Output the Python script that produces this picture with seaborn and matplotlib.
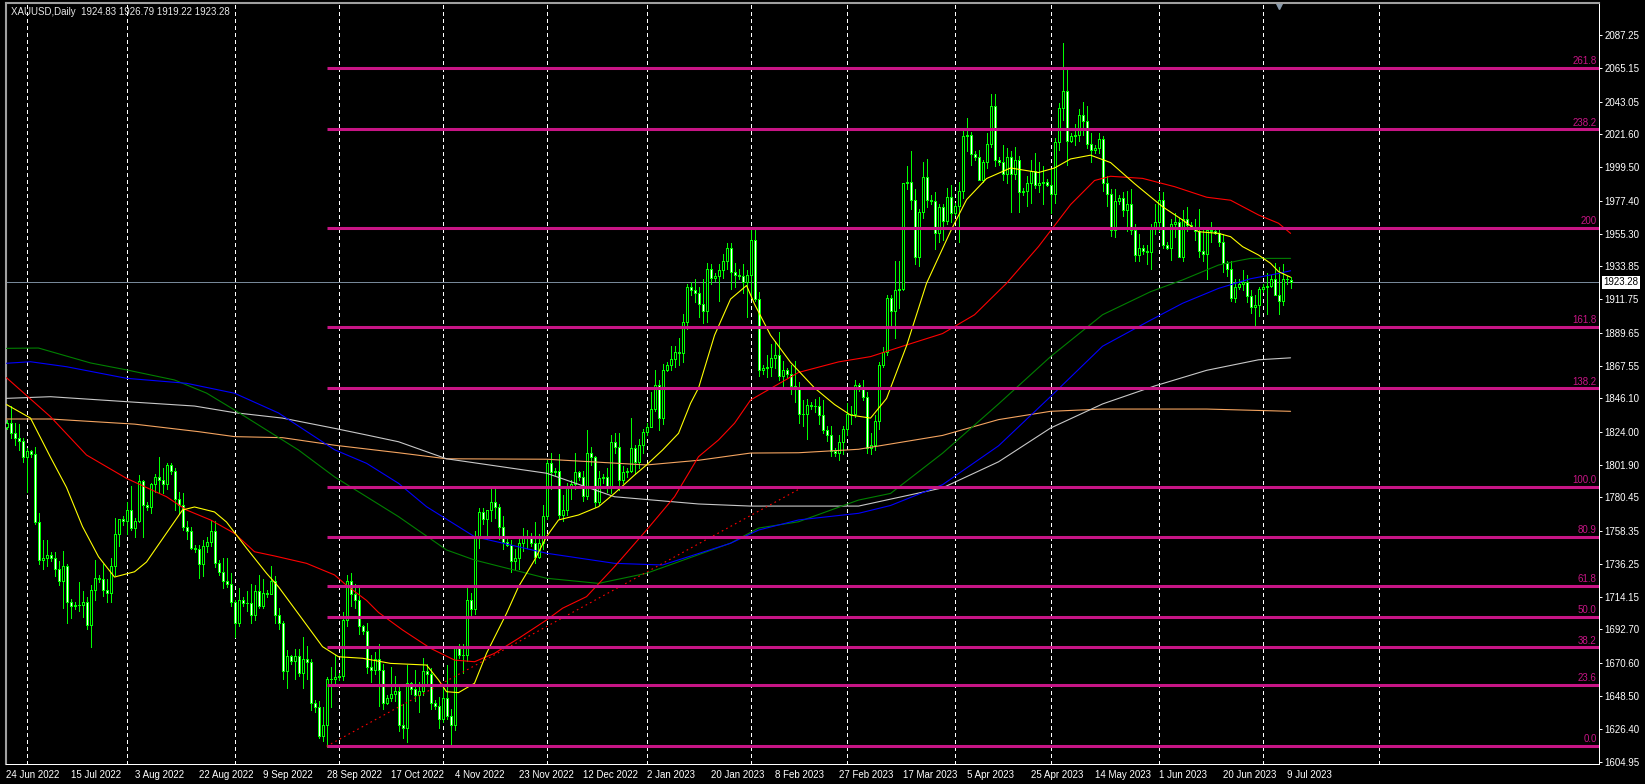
import numpy as np
import pandas as pd
import matplotlib
matplotlib.use("Agg")
import matplotlib.pyplot as plt
import seaborn as sns

symbol = "XAUUSD,Daily"

# daily bars run Sunday..Friday, the broker had no bar on these days
closed_days = ["2022-07-04", "2022-12-25", "2023-01-01", "2023-04-07"]
all_days = pd.date_range("2022-06-24", "2023-07-10", freq="D")
dates = [d for d in all_days if d.weekday() != 5 and d.strftime("%Y-%m-%d") not in closed_days]

# OHLC, one row per week (Sunday bar first)
opens = [1822,
    1827, 1830, 1823, 1820, 1818, 1807,
    1811, 1809, 1764, 1739, 1740,
    1742, 1740, 1733, 1725, 1735, 1711,
    1708, 1709, 1709, 1711, 1696, 1719,
    1727, 1726, 1719, 1717, 1735, 1756,
    1766, 1765, 1772, 1760, 1765, 1791,
    1775, 1774, 1789, 1794, 1792, 1789,
    1802, 1798, 1779, 1775, 1761, 1758,
    1747, 1746, 1736, 1748, 1751, 1758,
    1737, 1731, 1725, 1723, 1711, 1697,
    1712, 1710, 1710, 1702, 1718, 1708,
    1717, 1716, 1725, 1702, 1697, 1665,
    1675, 1672, 1675, 1664, 1673, 1671,
    1644, 1641, 1622, 1629, 1660, 1660,
    1661, 1662, 1699, 1725, 1716, 1712,
    1695, 1692, 1668, 1666, 1673, 1666,
    1644, 1647, 1650, 1652, 1629, 1627,
    1657, 1653, 1649, 1652, 1665, 1663,
    1644, 1642, 1633, 1647, 1635, 1629,
    1681, 1676, 1676, 1712, 1706, 1754,
    1771, 1766, 1772, 1777, 1774, 1761,
    1751, 1749, 1738, 1740, 1750, 1755,
    1755, 1750, 1741, 1750, 1768, 1803,
    1797, 1798, 1769, 1772, 1787, 1789,
    1797, 1794, 1781, 1810, 1807, 1777,
    1793, 1794, 1787, 1817, 1814, 1792,
    1797, 1798, 1813, 1804, 1815,
    1824, 1827, 1839, 1855, 1833,
    1865, 1868, 1872, 1877, 1876, 1897,
    1920, 1918, 1916, 1909, 1904, 1932,
    1926, 1927, 1931, 1937, 1946, 1930,
    1928, 1927, 1923, 1928, 1951, 1912,
    1865, 1866, 1867, 1873, 1875, 1861,
    1865, 1862, 1854, 1853, 1836, 1836,
    1842, 1841, 1841, 1835, 1825, 1822,
    1811, 1810, 1817, 1826, 1836, 1836,
    1855, 1853, 1847, 1813, 1815, 1831,
    1868, 1877, 1913, 1904, 1918, 1919,
    1989, 1990, 1978, 1940, 1970, 1993,
    1978, 1977, 1956, 1973, 1964, 1980,
    1969, 1974, 1984, 2020, 2021,
    2008, 2006, 1991, 2003, 2015, 2040,
    2004, 2003, 1995, 2006, 1995, 2004,
    1983, 1984, 1989, 1997, 1988, 1989,
    1990, 1988, 1982, 2016, 2039, 2050,
    2017, 2020, 2021, 2034, 2030, 2015,
    2011, 2012, 2018, 1989, 1982, 1958,
    1977, 1979, 1971, 1975, 1958, 1941,
    1946, 1944, 1943, 1959, 1963, 1978,
    1948, 1946, 1962, 1963, 1940, 1965,
    1961, 1960, 1957, 1944, 1942, 1958,
    1957, 1956, 1950, 1936, 1932, 1913,
    1920, 1922, 1923, 1914, 1907, 1908,
    1919, 1920, 1921, 1925, 1915, 1911,
    1925, 1924.83]

highs = [1833,
    1832, 1841, 1830, 1829, 1820, 1813,
    1812, 1814, 1770, 1752, 1752,
    1744, 1744, 1738, 1745, 1736, 1713,
    1711, 1724, 1718, 1714, 1722, 1739,
    1729, 1736, 1726, 1740, 1767, 1766,
    1768, 1777, 1788, 1767, 1795, 1792,
    1777, 1790, 1796, 1807, 1800, 1803,
    1803, 1800, 1784, 1783, 1765, 1761,
    1749, 1749, 1752, 1754, 1765, 1765,
    1739, 1740, 1740, 1730, 1712, 1720,
    1714, 1718, 1723, 1722, 1729, 1726,
    1719, 1735, 1728, 1707, 1698, 1679,
    1676, 1680, 1680, 1688, 1682, 1673,
    1646, 1645, 1641, 1661, 1668, 1676,
    1664, 1704, 1729, 1730, 1723, 1722,
    1696, 1697, 1676, 1678, 1683, 1670,
    1649, 1668, 1662, 1655, 1643, 1669,
    1658, 1666, 1658, 1674, 1670, 1667,
    1646, 1648, 1655, 1669, 1640, 1681,
    1683, 1683, 1722, 1717, 1758, 1773,
    1773, 1772, 1787, 1786, 1776, 1768,
    1753, 1752, 1746, 1754, 1760, 1759,
    1757, 1764, 1756, 1775, 1805, 1810,
    1800, 1809, 1782, 1790, 1792, 1810,
    1798, 1798, 1825, 1814, 1808, 1798,
    1796, 1800, 1822, 1823, 1823, 1801,
    1800, 1833, 1815, 1819, 1826,
    1830, 1850, 1865, 1858, 1869,
    1870, 1881, 1881, 1886, 1902, 1922,
    1923, 1925, 1920, 1925, 1936, 1935,
    1929, 1935, 1942, 1949, 1949, 1936,
    1932, 1935, 1931, 1958, 1959, 1917,
    1868, 1875, 1882, 1884, 1890, 1871,
    1866, 1868, 1871, 1857, 1845, 1846,
    1844, 1846, 1847, 1845, 1828, 1828,
    1813, 1822, 1828, 1843, 1841, 1858,
    1856, 1858, 1850, 1823, 1835, 1870,
    1880, 1915, 1915, 1937, 1937, 1989,
    2000, 2010, 1985, 1972, 2003, 2005,
    1981, 1983, 1975, 1975, 1986, 1988,
    1976, 1990, 2025, 2032, 2023,
    2010, 2011, 2004, 2022, 2048, 2048,
    2006, 2014, 2012, 2010, 2013, 2007,
    1986, 1994, 2004, 2009, 2003, 2000,
    1992, 1998, 2019, 2042, 2082, 2064,
    2022, 2028, 2038, 2043, 2040, 2022,
    2014, 2022, 2020, 1994, 1985, 1985,
    1981, 1983, 1984, 1985, 1962, 1955,
    1948, 1948, 1962, 1975, 1983, 1983,
    1950, 1965, 1969, 1966, 1971, 1973,
    1963, 1965, 1972, 1959, 1958, 1963,
    1959, 1960, 1955, 1937, 1937, 1925,
    1925, 1931, 1928, 1918, 1915, 1920,
    1922, 1929, 1928, 1936, 1933, 1935,
    1927, 1926.79]

lows = [1816,
    1826, 1820, 1815, 1812, 1804, 1784,
    1807, 1763, 1736, 1733, 1735,
    1738, 1728, 1722, 1707, 1697, 1700,
    1706, 1705, 1701, 1693, 1681, 1712,
    1724, 1715, 1711, 1711, 1729, 1748,
    1762, 1756, 1759, 1754, 1764, 1754,
    1772, 1770, 1784, 1783, 1783, 1786,
    1796, 1772, 1770, 1759, 1753, 1746,
    1744, 1727, 1728, 1744, 1748, 1734,
    1729, 1720, 1721, 1708, 1688, 1695,
    1708, 1705, 1697, 1699, 1707, 1707,
    1714, 1716, 1697, 1693, 1660, 1654,
    1670, 1660, 1662, 1654, 1660, 1639,
    1638, 1621, 1619, 1615, 1641, 1656,
    1659, 1659, 1695, 1708, 1707, 1690,
    1690, 1664, 1658, 1663, 1642, 1640,
    1643, 1645, 1645, 1625, 1621, 1618,
    1650, 1645, 1638, 1649, 1656, 1640,
    1640, 1627, 1631, 1633, 1617, 1626,
    1674, 1664, 1672, 1700, 1703, 1747,
    1763, 1753, 1765, 1767, 1753, 1746,
    1748, 1731, 1733, 1733, 1745, 1747,
    1748, 1737, 1740, 1746, 1766, 1786,
    1795, 1767, 1765, 1769, 1779, 1786,
    1792, 1778, 1779, 1802, 1774, 1775,
    1790, 1784, 1783, 1810, 1785, 1790,
    1794, 1797, 1796, 1800, 1810,
    1822, 1827, 1838, 1825, 1829,
    1864, 1865, 1867, 1868, 1870, 1892,
    1915, 1910, 1900, 1896, 1897, 1922,
    1924, 1911, 1926, 1932, 1919, 1920,
    1925, 1916, 1900, 1913, 1911, 1861,
    1862, 1860, 1861, 1866, 1858, 1853,
    1860, 1849, 1844, 1830, 1828, 1819,
    1839, 1837, 1829, 1823, 1818, 1808,
    1808, 1805, 1809, 1822, 1829, 1834,
    1851, 1845, 1810, 1809, 1812, 1826,
    1867, 1875, 1895, 1886, 1906, 1918,
    1985, 1972, 1935, 1934, 1966, 1973,
    1975, 1945, 1950, 1951, 1962, 1963,
    1968, 1950, 1979, 2010, 2001,
    2004, 1991, 1990, 1999, 2013, 2000,
    2001, 1991, 1989, 1970, 1992, 1970,
    1981, 1974, 1976, 1986, 1983, 1975,
    1987, 1969, 1976, 2011, 2031, 2001,
    2016, 2014, 2017, 2021, 2012, 2003,
    2009, 2009, 1984, 1974, 1954, 1953,
    1975, 1967, 1957, 1955, 1937, 1937,
    1942, 1935, 1932, 1955, 1957, 1946,
    1945, 1938, 1953, 1940, 1937, 1957,
    1959, 1951, 1940, 1937, 1925, 1950,
    1955, 1947, 1930, 1927, 1911, 1910,
    1919, 1918, 1910, 1903, 1893, 1901,
    1917, 1902, 1920, 1915, 1902, 1908,
    1922, 1919.22]

closes = [1827,
    1830, 1823, 1820, 1818, 1807, 1811,
    1809, 1764, 1739, 1740, 1742,
    1740, 1733, 1725, 1735, 1711, 1708,
    1709, 1709, 1711, 1696, 1719, 1727,
    1726, 1719, 1717, 1735, 1756, 1766,
    1765, 1772, 1760, 1765, 1791, 1775,
    1774, 1789, 1794, 1792, 1789, 1802,
    1798, 1779, 1775, 1761, 1758, 1747,
    1746, 1736, 1748, 1751, 1758, 1737,
    1731, 1725, 1723, 1711, 1697, 1712,
    1710, 1710, 1702, 1718, 1708, 1717,
    1716, 1725, 1702, 1697, 1665, 1675,
    1672, 1675, 1664, 1673, 1671, 1644,
    1641, 1622, 1629, 1660, 1660, 1661,
    1662, 1699, 1725, 1716, 1712, 1695,
    1692, 1668, 1666, 1673, 1666, 1644,
    1647, 1650, 1652, 1629, 1627, 1657,
    1653, 1649, 1652, 1665, 1663, 1644,
    1642, 1633, 1647, 1635, 1629, 1681,
    1676, 1676, 1712, 1706, 1754, 1771,
    1766, 1772, 1777, 1774, 1761, 1751,
    1749, 1738, 1740, 1750, 1755, 1755,
    1750, 1741, 1750, 1768, 1803, 1797,
    1798, 1769, 1772, 1787, 1789, 1797,
    1794, 1781, 1810, 1807, 1777, 1793,
    1794, 1787, 1817, 1814, 1792, 1797,
    1798, 1813, 1804, 1815, 1824,
    1827, 1839, 1855, 1833, 1865,
    1868, 1872, 1877, 1876, 1897, 1920,
    1918, 1916, 1909, 1904, 1932, 1926,
    1927, 1931, 1937, 1946, 1930, 1928,
    1927, 1923, 1928, 1951, 1912, 1865,
    1866, 1867, 1873, 1875, 1861, 1865,
    1862, 1854, 1853, 1836, 1836, 1842,
    1841, 1841, 1835, 1825, 1822, 1811,
    1810, 1817, 1826, 1836, 1836, 1855,
    1853, 1847, 1813, 1815, 1831, 1868,
    1877, 1913, 1904, 1918, 1919, 1989,
    1990, 1978, 1940, 1970, 1993, 1978,
    1977, 1956, 1973, 1964, 1980, 1969,
    1974, 1984, 2020, 2021, 2008,
    2006, 1991, 2003, 2015, 2040, 2004,
    2003, 1995, 2006, 1995, 2004, 1983,
    1984, 1989, 1997, 1988, 1989, 1990,
    1988, 1982, 2016, 2039, 2050, 2017,
    2020, 2021, 2034, 2030, 2015, 2011,
    2012, 2018, 1989, 1982, 1958, 1977,
    1979, 1971, 1975, 1958, 1941, 1946,
    1944, 1943, 1959, 1963, 1978, 1948,
    1946, 1962, 1963, 1940, 1965, 1961,
    1960, 1957, 1944, 1942, 1958, 1957,
    1956, 1950, 1936, 1932, 1913, 1920,
    1922, 1923, 1914, 1907, 1908, 1919,
    1920, 1921, 1925, 1915, 1911, 1925,
    1925, 1923.28]

# moving averages: bar number -> value
yellow_x = [1, 7, 12, 16, 20, 24, 28, 33, 36, 41, 45, 48, 53, 56, 61, 66, 69, 74, 80, 84,
            90, 97, 106, 109, 111, 114, 118, 121, 126, 129, 133, 136, 139, 144, 149, 153, 158, 161, 165, 169,
            172, 174, 178, 182, 186, 188, 192, 197, 203, 208, 212, 217, 221, 226, 231, 237, 241, 246, 252, 259,
            263, 267, 272, 277, 283, 290, 295, 299, 304, 307, 310, 314, 317, 319, 322]
yellow_y = [1842, 1833, 1807, 1787, 1761, 1741, 1727.5, 1731, 1737.5, 1756.7, 1772, 1774, 1770.7, 1764, 1746.7, 1730, 1721, 1703, 1681.3, 1674.6,
            1673.6, 1670.2, 1669.1, 1659.2, 1651.4, 1650.8, 1657, 1676.9, 1703.4, 1721.1, 1738.8, 1754.3, 1765.4, 1768.7, 1774.2, 1783.1, 1795.2, 1801.9, 1811.8, 1822.9,
            1842.8, 1853, 1888, 1912, 1921, 1908.6, 1888, 1870, 1853, 1842, 1835, 1833, 1846, 1881, 1922.5, 1957, 1978, 1992, 1999, 1996,
            1999, 2005, 2007.5, 2002.6, 1988.6, 1973.3, 1964.5, 1956.7, 1955.6, 1953.4, 1946.8, 1941.2, 1935.7, 1930.2, 1926.5]

red_x = [1, 12, 21, 31, 41, 46, 52, 58, 63, 68, 76, 83, 86, 91, 94, 100, 107, 113, 118, 123,
         129, 136, 140, 146, 153, 161, 168, 174, 179, 183, 187, 199, 209, 217, 225, 235, 243, 251, 259, 267,
         273, 277, 285, 293, 301, 307, 314, 319, 322]
red_y = [1859.8, 1833.9, 1808.5, 1793, 1780.8, 1772, 1765.4, 1756.5, 1744.3, 1741.5, 1736.6, 1728.9, 1722, 1712, 1704, 1692.4, 1680.2, 1672.4, 1671.3, 1676.9,
         1686.8, 1699, 1706.8, 1714.5, 1734.4, 1758.7, 1780.8, 1807.4, 1818.5, 1829.6, 1845, 1863.3, 1870.3, 1873.8, 1880.7, 1889.1, 1901.6, 1922.5, 1946.9, 1974.7,
         1990.7, 1993.5, 1992.1, 1986.6, 1979.6, 1977.6, 1967.8, 1962.3, 1955.6]

green_x = [1, 9, 22, 31, 43, 51, 58, 66, 74, 83, 91, 99, 111, 118, 136, 149, 161, 182, 189, 199,
           214, 222, 235, 249, 262, 275, 287, 295, 304, 309, 312, 322]
green_y = [1879.3, 1879.5, 1869.6, 1865, 1858.3, 1849.6, 1838.4, 1825.1, 1811.8, 1794, 1780.8, 1767.6, 1745.5, 1738.8, 1726.7, 1723.3, 1730, 1750, 1760, 1764.2,
           1778.6, 1783, 1809.7, 1842.4, 1873.8, 1901.6, 1916.9, 1924.7, 1934.6, 1937.5, 1939, 1939]

blue_x = [1, 7, 16, 31, 46, 58, 69, 83, 91, 99, 106, 118, 136, 153, 165, 182, 189, 199, 214, 222,
          235, 249, 262, 275, 287, 295, 304, 312, 319, 322]
blue_y = [1869.4, 1870.4, 1867.1, 1859.4, 1856.1, 1849.5, 1836.4, 1812, 1803, 1789.7, 1774.2, 1754.3, 1743.3, 1736.6, 1735.5, 1749.9, 1758.7, 1765.4, 1769.8, 1775,
          1788.8, 1814.6, 1847.3, 1880.7, 1898, 1909.2, 1919.1, 1925.5, 1929, 1930.8]

silver_x = [1, 12, 31, 48, 58, 70, 83, 91, 99, 111, 136, 153, 174, 187, 214, 235, 249, 262, 275, 288, 301, 314, 322]
silver_y = [1846.1, 1847.2, 1843.9, 1841, 1836.6, 1833, 1826.2, 1821.8, 1817.3, 1806, 1796.4, 1780.8, 1776, 1774.6, 1774.6, 1786.7, 1804, 1826.4, 1842.4, 1854.3, 1864.7, 1871.7, 1873]

sandy_x = [1, 12, 33, 49, 58, 70, 83, 99, 111, 136, 161, 174, 187, 199, 214, 235, 249, 262, 275, 288, 301, 322]
sandy_y = [1832.4, 1832.4, 1829, 1824, 1820.7, 1820, 1815, 1810, 1806, 1805.7, 1801.9, 1805, 1809.8, 1810, 1812.3, 1821.5, 1832, 1837.5, 1839, 1839, 1839, 1837.5]

# fibonacci retracement
fib_low, fib_high = 1615.2, 1787.1
fib_dates = ["2022-09-28", "2023-02-16"]
fib_levels = [0.0, 23.6, 38.2, 50.0, 61.8, 80.9, 100.0, 138.2, 161.8, 200.0, 238.2, 261.8]
fib_names = ["0.0", "23.6", "38.2", "50.0", "61.8", "80.9", "100.0", "138.2", "161.8", "200", "238.2", "261.8"]

price_labels = ["2087.25", "2065.15", "2043.05", "2021.60", "1999.50", "1977.40", "1955.30", "1933.85",
                "1911.75", "1889.65", "1867.55", "1846.10", "1824.00", "1801.90", "1780.45", "1758.35",
                "1736.25", "1714.15", "1692.70", "1670.60", "1648.50", "1626.40", "1604.95"]
date_labels = ["24 Jun 2022", "15 Jul 2022", "3 Aug 2022", "22 Aug 2022", "9 Sep 2022", "28 Sep 2022",
               "17 Oct 2022", "4 Nov 2022", "23 Nov 2022", "12 Dec 2022", "2 Jan 2023", "20 Jan 2023",
               "8 Feb 2023", "27 Feb 2023", "17 Mar 2023", "5 Apr 2023", "25 Apr 2023", "14 May 2023",
               "1 Jun 2023", "20 Jun 2023", "9 Jul 2023"]

sns.set_theme(style="dark", rc={"axes.facecolor": "black", "figure.facecolor": "black",
                                "axes.edgecolor": "white", "text.color": "white",
                                "xtick.color": "white", "ytick.color": "white", "axes.grid": False})
plt.rcParams["font.family"] = ["Liberation Sans", "DejaVu Sans"]

PX = 0.72  # one pixel in points
W, H = 1645, 784
fig = plt.figure(figsize=(W / 100, H / 100), dpi=100)
ax = fig.add_axes([6 / W, 20 / H, 1593 / W, 761 / H])
x_lo, x_hi = 0.875, 399.1
ax.set_xlim(x_lo, x_hi)
ax.set_ylim(1603.42, 2108.5)

date_key = [d.strftime("%Y-%m-%d") for d in dates]
idx = np.arange(len(dates))

# month separators (future bars count as calendar days)
last = dates[-1]
for m in pd.date_range("2022-07-01", "2023-08-01", freq="MS"):
    later = [i for i, d in enumerate(dates) if d >= m]
    pos = later[0] if later else len(dates) - 1 + (m - last).days
    if x_lo < pos < x_hi:
        ax.axvline(pos, color="white", lw=PX, ls=(0, (3, 3)), zorder=1, antialiased=False)

# candles
o, h, l, c = map(np.array, (opens, highs, lows, closes))
ax.vlines(idx, l, h, color="#00FF00", lw=PX, zorder=3, antialiased=False)
body_col = np.where(c >= o, "black", "white")
ax.bar(idx, np.abs(c - o), bottom=np.minimum(o, c), width=0.5, color=body_col,
       edgecolor="#00FF00", linewidth=PX, zorder=4, antialiased=False)

# moving averages
for xs, ys, col in [(sandy_x, sandy_y, "#F4A460"), (silver_x, silver_y, "#C8C8C8"),
                    (green_x, green_y, "#008000"), (blue_x, blue_y, "#0000FF"),
                    (red_x, red_y, "#FF0000"), (yellow_x, yellow_y, "#FFFF00")]:
    sns.lineplot(x=xs, y=ys, color=col, linewidth=0.8, sort=False, estimator=None, ax=ax, zorder=5)

# current price line
ax.axhline(closes[-1], color="#778899", lw=PX, zorder=2)

# fibonacci
magenta = "#C71585"
f0 = date_key.index(fib_dates[0])
f1 = date_key.index(fib_dates[1])
ax.plot([f0, f1], [fib_low, fib_high], color="red", lw=0.8, ls=(0, (1.5, 3)), zorder=6)
for lvl, name in zip(fib_levels, fib_names):
    p = fib_low + (fib_high - fib_low) * lvl / 100
    ax.hlines(p, f0, x_hi, color=magenta, lw=2.2, zorder=6)
    ax.text(0.9985, p + 1.2, name, transform=ax.get_yaxis_transform(), ha="right", va="bottom",
            color=magenta, fontsize=7, zorder=7)

# axes
ax.yaxis.tick_right()
ax.set_yticks([float(v) for v in price_labels], price_labels)
pos = [max(date_key.index(pd.to_datetime(s, format="%d %b %Y").strftime("%Y-%m-%d")), x_lo + 0.05)
       for s in date_labels]
ax.set_xticks(pos, date_labels)
for t in ax.get_xticklabels():
    t.set_horizontalalignment("left")
ax.tick_params(axis="both", length=2.5, width=PX, pad=1.5, labelsize=7, colors="white")
ax.set_xlabel("")
ax.set_ylabel("")
for side in ["right", "bottom"]:
    ax.spines[side].set_color("white")
    ax.spines[side].set_linewidth(PX)
for side in ["left", "top"]:
    ax.spines[side].set_color("#A0A0A0")
    ax.spines[side].set_linewidth(1.5)

ax.text(1.003, closes[-1], f"{closes[-1]:.2f}", transform=ax.get_yaxis_transform(), ha="left", va="center",
        color="black", fontsize=7, bbox=dict(boxstyle="square,pad=0.15", fc="white", ec="none"), clip_on=False)

# chart shift marker
ax.plot([0.799], [0.9965], marker="v", ms=5, color="#8899AA", transform=ax.transAxes, clip_on=False)

fig.text(11 / W, 1 - 12 / H, f"{symbol}  {opens[-1]:.2f} {highs[-1]:.2f} {lows[-1]:.2f} {closes[-1]:.2f}",
         color="#E8E8E8", fontsize=7, va="center")

fig.savefig("out.png", dpi=100, facecolor="black")
